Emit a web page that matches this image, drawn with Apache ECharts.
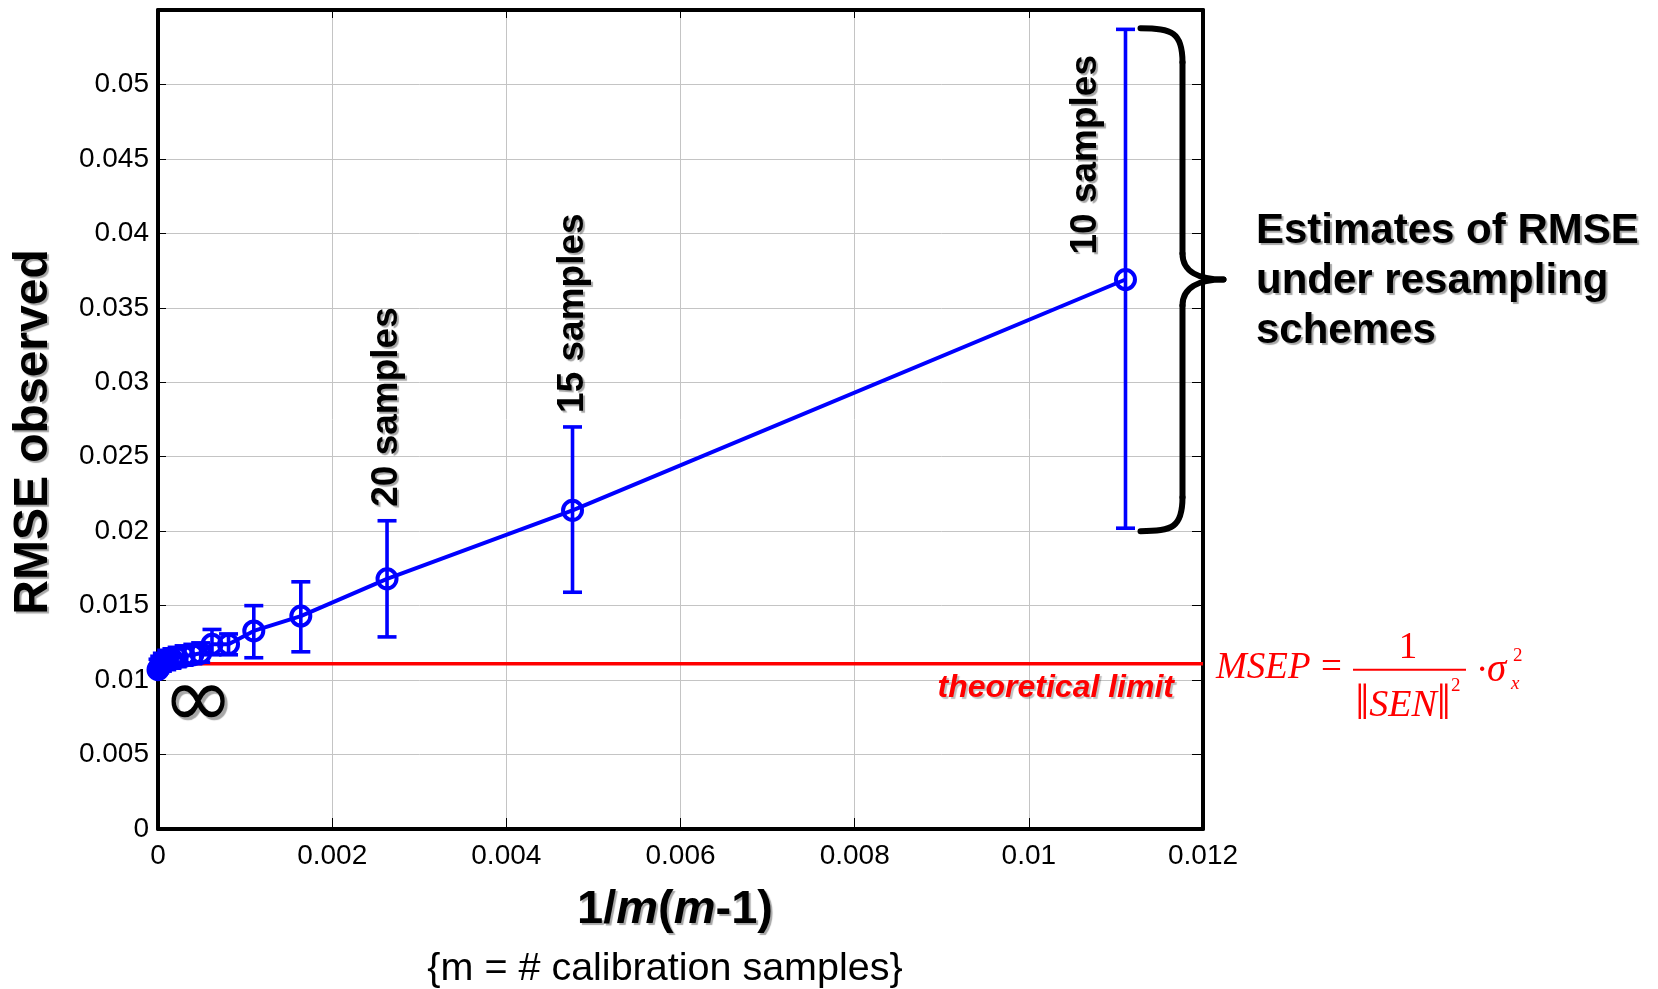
<!DOCTYPE html>
<html><head><meta charset="utf-8">
<script src="https://cdn.jsdelivr.net/npm/echarts@6/dist/echarts.min.js"></script>
<style>html,body{margin:0;padding:0;background:#fff}#c{width:1658px;height:989px}</style>
</head><body><div id="c"></div>
<script>
// ---- data ----
const invM    = [0.01111, 0.00476, 0.00263, 0.00164, 0.00110, 0.00081, 0.00062, 0.00049, 0.00040, 0.00030, 0.00022, 0.00016, 0.00010, 0.00005, 0.00002, 0];
const rmse    = [0.0369, 0.0214, 0.0168, 0.0143, 0.0133, 0.0124, 0.0124, 0.0118, 0.0117, 0.0116, 0.0115, 0.0114, 0.0113, 0.0111, 0.0109, 0.0107];
const errLow  = [0.0202, 0.0159, 0.0129, 0.0119, 0.0115, 0.0117, 0.0117, 0.0112, 0.0111, 0.0110, 0.0109, 0.0108, 0.0107, 0.0106, 0.0105, 0.0104];
const errHigh = [0.0537, 0.0270, 0.0207, 0.0166, 0.0150, 0.0131, 0.0134, 0.0125, 0.0124, 0.0123, 0.0122, 0.0121, 0.0120, 0.0118, 0.0116, 0.0114];
const sampleLabels = ['10 samples', '15 samples', '20 samples'];
const theoreticalLimit = 0.0111;
const xTickLabels = ['0', '0.002', '0.004', '0.006', '0.008', '0.01', '0.012'];
const yTickLabels = ['0', '0.005', '0.01', '0.015', '0.02', '0.025', '0.03', '0.035', '0.04', '0.045', '0.05'];

const BLUE = '#0000ff', RED = '#ff0000';
const SANS = '"Liberation Sans", Arial, sans-serif';
const SERIF = '"Liberation Serif", "Times New Roman", serif';
const shadow = {textShadowColor: 'rgba(0,0,0,0.35)', textShadowOffsetX: 2, textShadowOffsetY: 2, textShadowBlur: 1};

const chart = echarts.init(document.getElementById('c'), null, {renderer: 'canvas'});

const pointData = invM.map((x, i) => {
  const item = {value: [x, rmse[i]]};
  if (x <= 0.0001) item.itemStyle = {color: BLUE};
  return item;
});
const errData = invM.map((x, i) => [x, errLow[i], errHigh[i]]);

const axisLabelStyle = {fontFamily: SANS, fontSize: 28, color: '#000'};
const frameLine = {show: true, onZero: false, lineStyle: {color: '#000', width: 4}};

chart.setOption({
  animation: false,
  grid: {left: 158, right: 455, top: 10, bottom: 160},
  xAxis: [{
    type: 'value', min: 0, max: 0.012, interval: 0.002, position: 'bottom',
    axisLine: frameLine,
    axisTick: {inside: true, length: 11, lineStyle: {color: '#000', width: 1}},
    axisLabel: Object.assign({margin: 13, formatter: v => xTickLabels[Math.round(v / 0.002)] || ''}, axisLabelStyle),
    splitLine: {show: true, lineStyle: {color: '#c4c4c4', width: 1}}
  }, {
    type: 'value', min: 0, max: 0.012, interval: 0.002, position: 'top',
    axisLine: frameLine,
    axisTick: {inside: true, length: 8, lineStyle: {color: '#000', width: 1}},
    axisLabel: {show: false}, splitLine: {show: false}
  }],
  yAxis: [{
    type: 'value', min: 0, max: 0.055, interval: 0.005, position: 'left',
    axisLine: frameLine,
    axisTick: {inside: true, length: 8, lineStyle: {color: '#000', width: 1}},
    axisLabel: Object.assign({margin: 9, formatter: v => yTickLabels[Math.round(v / 0.005)] || ''}, axisLabelStyle),
    splitLine: {show: true, lineStyle: {color: '#c4c4c4', width: 1}}
  }, {
    type: 'value', min: 0, max: 0.055, interval: 0.005, position: 'right',
    axisLine: frameLine,
    axisTick: {inside: true, length: 11, lineStyle: {color: '#000', width: 1}},
    axisLabel: {show: false}, splitLine: {show: false}
  }],
  series: [{
    type: 'line', name: 'limit', z: 1, clip: false, symbol: 'none',
    data: [[0, theoreticalLimit], [0.012, theoreticalLimit]],
    lineStyle: {color: RED, width: 3.5}
  }, {
    type: 'custom', name: 'err', z: 2, clip: false,
    encode: {x: 0, y: [1, 2]},
    data: errData,
    renderItem: function (params, api) {
      const x = api.value(0);
      const pLo = api.coord([x, api.value(1)]);
      const pHi = api.coord([x, api.value(2)]);
      const w = 9.5, st = {stroke: BLUE, lineWidth: 3.6};
      return {type: 'group', children: [
        {type: 'line', shape: {x1: pLo[0], y1: pLo[1], x2: pHi[0], y2: pHi[1]}, style: st},
        {type: 'line', shape: {x1: pLo[0] - w, y1: pLo[1], x2: pLo[0] + w, y2: pLo[1]}, style: st},
        {type: 'line', shape: {x1: pHi[0] - w, y1: pHi[1], x2: pHi[0] + w, y2: pHi[1]}, style: st}
      ]};
    }
  }, {
    type: 'line', name: 'rmse', z: 3, clip: false,
    data: pointData,
    symbol: 'circle', symbolSize: 19,
    lineStyle: {color: BLUE, width: 4},
    itemStyle: {color: 'rgba(0,0,0,0)', borderColor: BLUE, borderWidth: 4}
  }]
});

// ---- annotations positioned from the axes ----
const px = (x, y) => chart.convertToPixel({xAxisIndex: 0, yAxisIndex: 0}, [x, y]);
const gRightTop = px(0.012, 0.055);
const limitPx = px(0.012, theoreticalLimit);
const g = [];

// rotated sample labels
[0, 1, 2].forEach((i, k) => {
  const pPt = px(invM[i], rmse[i]);
  const pHi = px(invM[i], errHigh[i]);
  let ax, ay;
  if (k === 0) { ax = pPt[0] - 40; ay = pPt[1] - 25; }
  else { ax = pPt[0]; ay = pHi[1] - 14; }
  g.push({type: 'text', x: ax, y: ay, rotation: Math.PI / 2, z: 10,
    style: Object.assign({text: sampleLabels[k], font: 'bold 37px ' + SANS, fill: '#000', align: 'left', verticalAlign: 'middle'}, shadow)});
});

// brace next to the 10-sample error bar
const bTop = px(invM[0], errHigh[0]), bBot = px(invM[0], errLow[0]), bMid = px(invM[0], rmse[0]);
const x0 = bTop[0] + 15, xv = x0 + 42, xt = x0 + 83;
const t = bTop[1] - 1, b = bBot[1] + 3, m = bMid[1];
const braceStyle = {stroke: '#000', lineWidth: 6, fill: null, lineCap: 'round'};
const bez = (x1, y1, c1x, c1y, c2x, c2y, x2, y2) => ({type: 'bezierCurve', z: 10,
  shape: {x1: x1, y1: y1, cpx1: c1x, cpy1: c1y, cpx2: c2x, cpy2: c2y, x2: x2, y2: y2}, style: braceStyle});
g.push(bez(x0, t, x0 + 32, t, xv, t + 4, xv, t + 34));
g.push({type: 'line', z: 10, shape: {x1: xv, y1: t + 34, x2: xv, y2: m - 26}, style: braceStyle});
g.push(bez(xv, m - 26, xv, m - 8, xv + 16, m, xt, m));
g.push(bez(xt, m, xv + 16, m, xv, m + 8, xv, m + 26));
g.push({type: 'line', z: 10, shape: {x1: xv, y1: m + 26, x2: xv, y2: b - 34}, style: braceStyle});
g.push(bez(xv, b - 34, xv, b - 4, x0 + 32, b, x0, b));

// right-side description
g.push({type: 'text', x: gRightTop[0] + 53, y: 206, z: 10,
  style: Object.assign({text: 'Estimates of RMSE\nunder resampling\nschemes', font: 'bold 42px ' + SANS, lineHeight: 50, fill: '#000', align: 'left', verticalAlign: 'top'}, shadow)});

// theoretical limit label
g.push({type: 'text', x: limitPx[0] - 29, y: limitPx[1] + 24, z: 10,
  style: {text: 'theoretical limit', font: 'italic bold 32px ' + SANS, fill: RED, align: 'right', verticalAlign: 'middle',
    textShadowColor: 'rgba(0,0,0,0.25)', textShadowOffsetX: 2, textShadowOffsetY: 2, textShadowBlur: 1}});

// formula MSEP = 1/||SEN||^2 * sigma_x^2
const fx = limitPx[0] + 13, fy = limitPx[1] + 5;
const fText = (txt, x, y, size, italic, align) => ({type: 'text', x: x, y: y, z: 10,
  style: {text: txt, font: (italic ? 'italic ' : '') + size + 'px ' + SERIF, fill: RED, align: align || 'left', verticalAlign: 'middle'}});
g.push(fText('MSEP', fx, fy, 37, true));
g.push(fText('=', fx + 105, fy, 37, false));
g.push({type: 'line', z: 10, shape: {x1: fx + 137, y1: fy + 1, x2: fx + 250, y2: fy + 1}, style: {stroke: RED, lineWidth: 2}});
g.push(fText('1', fx + 192, fy - 20, 37, false, 'center'));
g.push({type: 'text', x: fx + 187, y: fy + 37, z: 10, style: {
  text: '{n|‖}{i|SEN}{n|‖}', align: 'center', verticalAlign: 'middle', fill: RED,
  rich: {n: {font: '50px ' + SERIF, fill: RED}, i: {font: 'italic 38px ' + SERIF, fill: RED}}}});
g.push(fText('2', fx + 235, fy + 17, 19, false));
g.push(fText('·', fx + 260, fy + 3, 37, false));
g.push(fText('σ', fx + 271, fy + 2, 39, true));
g.push(fText('2', fx + 297, fy - 13, 19, false));
g.push(fText('x', fx + 295, fy + 15, 19, true));

// infinity sign
const p0 = px(0, theoreticalLimit);
g.push({type: 'text', x: p0[0] + 40, y: p0[1] + 41, z: 10,
  style: {text: '∞', font: '86px "DejaVu Sans", sans-serif', fill: '#000', align: 'center', verticalAlign: 'middle',
    textShadowColor: 'rgba(0,0,0,0.35)', textShadowOffsetX: 3, textShadowOffsetY: 3, textShadowBlur: 1}});

// axis titles
g.push({type: 'text', x: 34, y: 432, rotation: Math.PI / 2, z: 10,
  style: Object.assign({text: 'RMSE observed', font: 'bold 48px ' + SANS, fill: '#000', align: 'center', verticalAlign: 'middle'}, shadow)});
g.push({type: 'text', x: 675, y: 910, z: 10, style: {
  text: '{b|1/}{i|m}{b|(}{i|m}{b|-1)}', align: 'center', verticalAlign: 'middle',
  rich: {
    b: Object.assign({font: 'bold 47px ' + SANS, fill: '#000'}, shadow),
    i: Object.assign({font: 'italic bold 47px ' + SANS, fill: '#000'}, shadow)
  }}});
g.push({type: 'text', x: 665, y: 969, z: 10,
  style: {text: '{m = # calibration samples}', font: '39.5px ' + SANS, fill: '#000', align: 'center', verticalAlign: 'middle'}});

chart.setOption({graphic: g});
</script>
</body></html>
